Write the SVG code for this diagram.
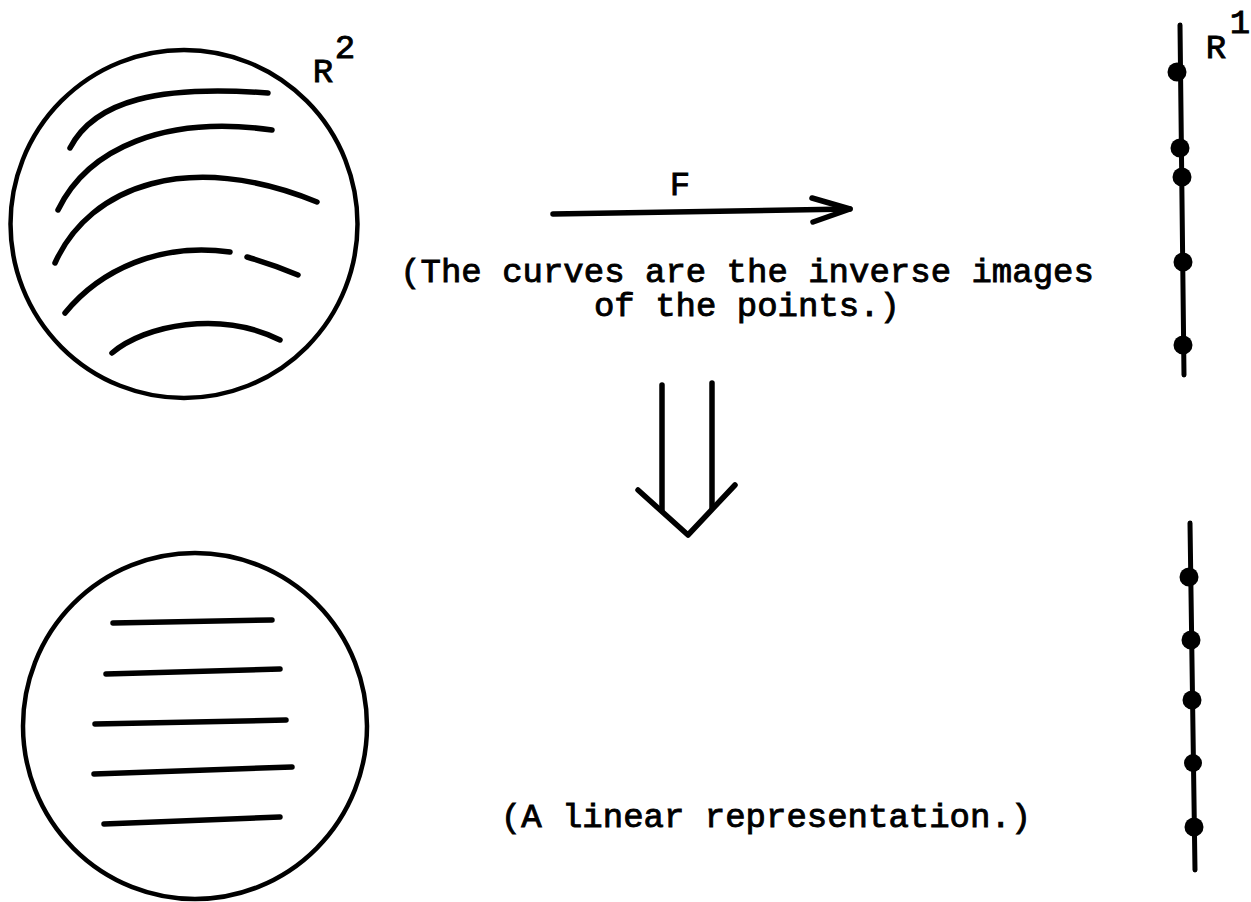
<svg xmlns="http://www.w3.org/2000/svg" width="1251" height="902" viewBox="0 0 1251 902">
<style>
.ink{fill:none;stroke:#000;stroke-linecap:round;stroke-linejoin:round}
.circ{stroke-width:4.5}
.crv{stroke-width:5.5}
.axis{stroke-width:5}
.dot{fill:#000;stroke:none}
.t{font-family:"Liberation Mono","Courier New",monospace;font-size:34px;fill:#000;stroke:#000;stroke-width:0.9}
</style>
<rect width="1251" height="902" fill="#fff"/>
<g id="domain-curved">
<ellipse class="ink circ" cx="184" cy="224" rx="173.5" ry="174"/>
<path class="ink crv" d="M70,148 C95,100 160,85 268,93"/>
<path class="ink crv" d="M58,210 C88,148 165,115 272,130"/>
<path class="ink crv" d="M55,263 C90,185 190,150 317,202"/>
<path class="ink crv" d="M65,313 C100,270 160,242 230,252"/>
<path class="ink crv" d="M247,257 Q272,264 298,275"/>
<path class="ink crv" d="M112,353 C145,325 220,310 280,340"/>
<text class="t" x="323" y="82" text-anchor="middle">R</text>
<text class="t" x="345" y="58" text-anchor="middle">2</text>
</g>
<g id="domain-linear">
<ellipse class="ink circ" cx="195" cy="726" rx="172" ry="173"/>
<path class="ink crv" d="M113,623 L272,620"/>
<path class="ink crv" d="M106,674 L280,669"/>
<path class="ink crv" d="M95,724 L286,720"/>
<path class="ink crv" d="M94,774 L292,767"/>
<path class="ink crv" d="M104,824 L280,817"/>
</g>
<g id="line-top">
<path class="ink axis" d="M1180,25 L1184,375"/>
<circle class="dot" cx="1177" cy="72" r="9.5"/>
<circle class="dot" cx="1180" cy="148" r="9.5"/>
<circle class="dot" cx="1182" cy="177" r="9.5"/>
<circle class="dot" cx="1183" cy="262" r="9.5"/>
<circle class="dot" cx="1183" cy="345" r="9.5"/>
<text class="t" x="1216" y="58" text-anchor="middle">R</text>
<text class="t" x="1240" y="33" text-anchor="middle">1</text>
</g>
<g id="line-bottom">
<path class="ink axis" d="M1190,523 L1195,870"/>
<circle class="dot" cx="1189" cy="577" r="9.5"/>
<circle class="dot" cx="1191" cy="640" r="9.5"/>
<circle class="dot" cx="1192" cy="700" r="9.5"/>
<circle class="dot" cx="1193" cy="763" r="9"/>
<circle class="dot" cx="1194" cy="827" r="9.5"/>
</g>
<g id="connectors">
<g id="arrow-F">
<path class="ink crv" d="M553,214 L850,209"/>
<path class="ink crv" d="M812,198 L850,209 L813,222"/>
<text class="t" x="680" y="195" text-anchor="middle">F</text>
</g>
<g id="double-arrow">
<path class="ink crv" d="M662,385 L662,510"/>
<path class="ink crv" d="M712,383 L712,508"/>
<path class="ink crv" d="M638,490 L688,535 L735,485"/>
</g>
</g>
<g id="caption-top">
<text class="t" text-anchor="middle"><tspan x="747" y="282">(The curves are the inverse images</tspan><tspan x="747" y="316">of the points.)</tspan></text>
</g>
<g id="caption-bottom">
<text class="t" x="766" y="827" text-anchor="middle">(A linear representation.)</text>
</g>
</svg>
